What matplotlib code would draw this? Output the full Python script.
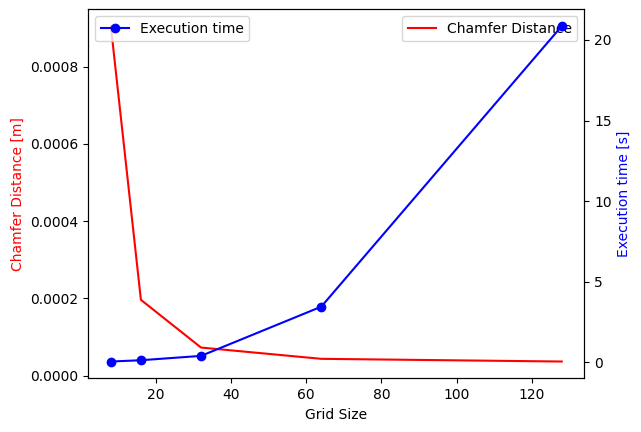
import numpy as np
import matplotlib.pyplot as plt

grid_size = [8, 16, 32, 64, 128]
chamfer = [0.000905, 0.000196, 0.0000724, 0.0000432, 0.0000362]
exec_time = [0.06, 0.14, 0.41, 3.46, 20.86]

fig = plt.figure(figsize=(6.41, 4.32), dpi=100)
ax1 = fig.add_axes([88.3 / 641, (432 - 378.3) / 432, 496 / 641, 369 / 432])

ax1.plot(grid_size, chamfer, 'r', label='Chamfer Distance')
ax1.set_xlabel('Grid Size')
ax1.set_ylabel('Chamfer Distance [m]', color='r')
ax1.legend(loc='upper right')

ax2 = ax1.twinx()
ax2.plot(grid_size, exec_time, 'b-o', label='Execution time')
ax2.set_ylabel('Execution time [s]', color='b')
ax2.legend(loc='upper left')

fig.savefig('out.png', dpi=100)
